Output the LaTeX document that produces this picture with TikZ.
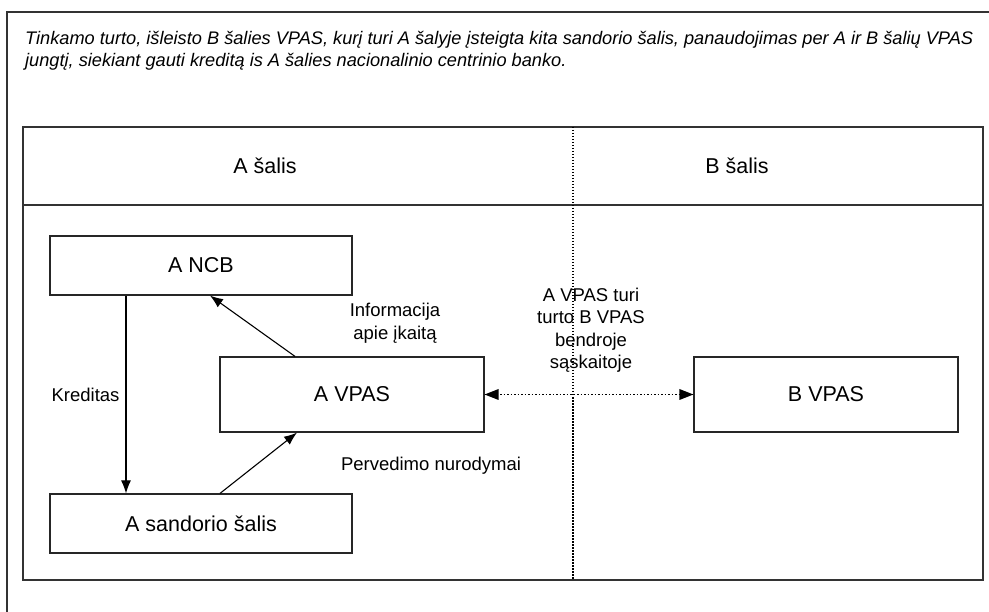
\documentclass[tikz,border=0pt]{standalone}
\usepackage{fontspec}
\setmainfont{Liberation Sans}
\usepackage{tikz}
\usetikzlibrary{arrows.meta}
\tikzset{
  BoxNode/.style = {draw = black!85, line width = 1.2pt, align=center, inner sep=0pt, font=\fontsize{21.5}{26}\selectfont},
  LabelNode/.style = {align=center, inner sep=0pt, font=\fontsize{18.5}{23}\selectfont},
  Frame/.style = {draw = black!80, line width = 1.5pt},
  Flow/.style = {line width = 1.1pt, -{Latex[length=13pt, width=10pt]}},
  TipOnly/.style = {draw = none, fill = black}
}
\begin{document}
\begin{tikzpicture}[x=1pt,y=-1pt]
  \useasboundingbox (0,0) rectangle (989,612);
  % outer frame, cut off at right and bottom
  \draw[Frame] (7,612) -- (7,12) -- (989,12);
  \node [anchor=west, align=left, inner sep=0pt, font=\fontsize{18.2}{22}\selectfont\itshape] (caption) at (25,51)
    {Tinkamo turto, išleisto B šalies VPAS, kurį turi A šalyje įsteigta kita sandorio šalis, panaudojimas per A ir B šalių VPAS\\
     jungtį, siekiant gauti kreditą is A šalies nacionalinio centrinio banko.};
  % inner frame
  \draw[Frame] (23,127) rectangle (983,580);
  \draw[Frame] (23,205) -- (983,205);
  \draw[dash pattern=on 1.5pt off 1.5pt, line width=1.2pt] (573,127) -- (573,580);
  \node [LabelNode, font=\fontsize{21.5}{26}\selectfont] (asalis) at (265,166) {A šalis};
  \node [LabelNode, font=\fontsize{21.5}{26}\selectfont] (bsalis) at (737,166) {B šalis};
  % participants
  \node [BoxNode, minimum width=302pt, minimum height=59pt] (ancb) at (201,265.5) {A NCB};
  \node [BoxNode, minimum width=264pt, minimum height=75pt] (avpas) at (352,394.5) {A VPAS};
  \node [BoxNode, minimum width=302pt, minimum height=59pt] (asandoris) at (201,523.5) {A sandorio šalis};
  \node [BoxNode, minimum width=264pt, minimum height=75pt] (bvpas) at (826,394.5) {B VPAS};
  % flows
  \draw [Flow] (ancb.south -| 126,0) -- node [LabelNode, left=6pt] (kreditas) {Kreditas} (asandoris.north -| 126,0);
  \draw [Flow] (avpas.north -| 295,0) -- (ancb.south -| 210,0);
  \draw [Flow] (asandoris.north -| 220,0) -- (avpas.south -| 297,0);
  % dotted link, tips drawn as filled triangles
  \draw [dash pattern=on 1.5pt off 2pt, line width=1.5pt, shorten <=12pt, shorten >=12pt] (avpas.east) -- (bvpas.west);
  \fill [TipOnly] (avpas.east) -- ++(14,-5.5) -- ++(0,11) -- cycle;
  \fill [TipOnly] (bvpas.west) -- ++(-14,-5.5) -- ++(0,11) -- cycle;
  \node [LabelNode] (info) at (395,323) {Informacija\\apie įkaitą};
  \node [LabelNode, font=\fontsize{18.5}{22.5}\selectfont] (turi) at (591,330) {A VPAS turi\\turto B VPAS\\bendroje\\sąskaitoje};
  \node [LabelNode] (pervedimo) at (431,466) {Pervedimo nurodymai};
\end{tikzpicture}
\end{document}
